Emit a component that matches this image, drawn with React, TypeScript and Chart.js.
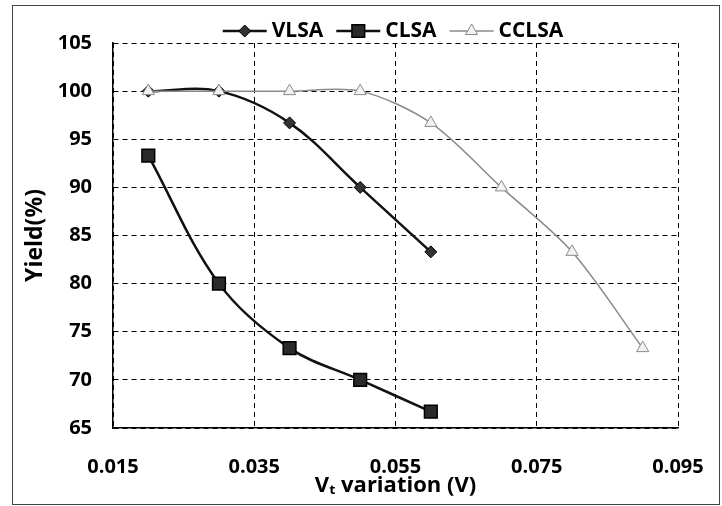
import React, { useEffect, useRef } from "react";
import { Chart, registerables } from "chart.js";

Chart.register(...registerables);

// ---- data ----
const xTickValues = [0.015, 0.035, 0.055, 0.075, 0.095];
const vlsaX = [0.02, 0.03, 0.04, 0.05, 0.06];
const vlsaY = [100, 100, 96.7, 90, 83.3];
const clsaX = [0.02, 0.03, 0.04, 0.05, 0.06];
const clsaY = [93.3, 80, 73.3, 70, 66.7];
const cclsaX = [0.02, 0.03, 0.04, 0.05, 0.06, 0.07, 0.08, 0.09];
const cclsaY = [100, 100, 100, 100, 96.7, 90, 83.3, 73.3];
const seriesLabels = ["VLSA", "CLSA", "CCLSA"];
const yTitle = "Yield(%)";
const xTitle = "V\u209C variation (V)";

const FONT = '"Open Sans", "DejaVu Sans", sans-serif';

function toPoints(xs: number[], ys: number[]) {
  return xs.map((x, i) => ({ x, y: ys[i] }));
}

function drawMarker(ctx: CanvasRenderingContext2D, style: string, x: number, y: number, r: number, fill: string, stroke: string, lw: number) {
  ctx.save();
  ctx.beginPath();
  if (style === "rectRot") {
    ctx.moveTo(x - r, y);
    ctx.lineTo(x, y - r);
    ctx.lineTo(x + r, y);
    ctx.lineTo(x, y + r);
    ctx.closePath();
  } else if (style === "rect") {
    const s = Math.SQRT1_2 * r;
    ctx.rect(x - s, y - s, 2 * s, 2 * s);
  } else if (style === "triangle") {
    ctx.moveTo(x, y - r);
    ctx.lineTo(x - r * 0.866, y + r * 0.5);
    ctx.lineTo(x + r * 0.866, y + r * 0.5);
    ctx.closePath();
  }
  ctx.fillStyle = fill;
  ctx.fill();
  ctx.lineWidth = lw;
  ctx.strokeStyle = stroke;
  ctx.stroke();
  ctx.restore();
}

const framePlugin = {
  id: "frame",
  beforeDraw(chart: any) {
    const ctx = chart.ctx as CanvasRenderingContext2D;
    ctx.save();
    ctx.fillStyle = "#fff";
    ctx.fillRect(0, 0, chart.width, chart.height);
    ctx.strokeStyle = "#444";
    ctx.lineWidth = 1;
    ctx.strokeRect(12.5, 5.5, 707, 499);
    ctx.restore();
  },
};

const legendPlugin = {
  id: "customLegend",
  afterDraw(chart: any) {
    const ctx = chart.ctx as CanvasRenderingContext2D;
    ctx.save();
    ctx.font = `bold 21px ${FONT}`;
    const y = 31;
    const lineLen = 44;
    const gap = 5;
    const itemGap = 13;
    const dss = chart.data.datasets;
    const widths = dss.map((ds: any) => lineLen + gap + ctx.measureText(ds.label).width);
    const total = widths.reduce((a: number, b: number) => a + b, 0) + itemGap * (dss.length - 1);
    let x = 393 - total / 2;
    dss.forEach((ds: any, i: number) => {
      ctx.beginPath();
      ctx.strokeStyle = ds.borderColor;
      ctx.lineWidth = ds.borderWidth;
      ctx.moveTo(x, y);
      ctx.lineTo(x + lineLen, y);
      ctx.stroke();
      drawMarker(ctx, ds.pointStyle, x + lineLen / 2, y, ds.pointRadius, ds.pointBackgroundColor, ds.pointBorderColor, ds.pointBorderWidth);
      ctx.fillStyle = "#000";
      ctx.textBaseline = "middle";
      ctx.textAlign = "left";
      ctx.fillText(ds.label, x + lineLen + gap, y);
      x += widths[i] + itemGap;
    });
    ctx.restore();
  },
};

export default function App() {
  const ref = useRef<HTMLCanvasElement | null>(null);

  useEffect(() => {
    if (!ref.current) return;
    const chart = new Chart(ref.current, {
      type: "line",
      data: {
        datasets: [
          {
            label: seriesLabels[0],
            data: toPoints(vlsaX, vlsaY),
            borderColor: "#111",
            borderWidth: 2.5,
            pointStyle: "rectRot",
            pointRadius: 6,
            pointBackgroundColor: "#333",
            pointBorderColor: "#000",
            pointBorderWidth: 1,
            tension: 0.35,
            order: 2,
          },
          {
            label: seriesLabels[1],
            data: toPoints(clsaX, clsaY),
            borderColor: "#111",
            borderWidth: 2.5,
            pointStyle: "rect",
            pointRadius: 9,
            pointBackgroundColor: "#2a2a2a",
            pointBorderColor: "#000",
            pointBorderWidth: 1.5,
            tension: 0.35,
            order: 1,
          },
          {
            label: seriesLabels[2],
            data: toPoints(cclsaX, cclsaY),
            borderColor: "#8a8a8a",
            borderWidth: 1.5,
            pointStyle: "triangle",
            pointRadius: 7,
            pointBackgroundColor: "#f2f2f2",
            pointBorderColor: "#8a8a8a",
            pointBorderWidth: 1,
            tension: 0.3,
            order: 0,
          },
        ] as any,
      },
      options: {
        animation: false,
        responsive: false,
        maintainAspectRatio: false,
        layout: { padding: { left: 0, right: 44, top: 43, bottom: 0 } },
        plugins: {
          legend: { display: false },
          tooltip: { enabled: false },
        },
        scales: {
          x: {
            type: "linear",
            min: 0.015,
            max: 0.095,
            afterBuildTicks: (scale: any) => {
              scale.ticks = xTickValues.map((v) => ({ value: v }));
            },
            afterFit: (scale: any) => {
              scale.height = 78;
              scale.paddingLeft = 0;
              scale.paddingRight = 0;
            },
            ticks: {
              color: "#000",
              font: { family: FONT, size: 20, weight: "bold" },
              padding: 27,
              maxRotation: 0,
              callback: (v: any) => Number(v).toFixed(3),
            },
            grid: {
              color: "#000",
              lineWidth: 1,
              drawTicks: false,
            },
            border: { display: true, color: "#000", width: 1.5, dash: [5, 4] } as any,
            title: {
              display: true,
              text: xTitle,
              color: "#000",
              font: { family: FONT, size: 22, weight: "bold" },
              padding: { top: 0, bottom: 7 },
            },
          },
          y: {
            type: "linear",
            min: 65,
            max: 105,
            afterFit: (scale: any) => {
              scale.width = 113;
            },
            ticks: {
              stepSize: 5,
              color: "#000",
              font: { family: FONT, size: 20, weight: "bold" },
              padding: 21,
            },
            grid: {
              color: "#000",
              lineWidth: 1,
              drawTicks: false,
            },
            border: { display: true, color: "#000", width: 1.5, dash: [5, 4] } as any,
            title: {
              display: true,
              text: yTitle,
              color: "#000",
              font: { family: FONT, size: 23, weight: "bold" },
              padding: { top: 22, bottom: 0 },
            },
          },
        },
      } as any,
      plugins: [framePlugin, legendPlugin],
    });
    return () => chart.destroy();
  }, []);

  return (
    <div style={{ position: "absolute", left: 0, top: 0, width: 722, height: 506, background: "#fff" }}>
      <canvas ref={ref} width={722} height={506} style={{ display: "block" }} />
    </div>
  );
}
